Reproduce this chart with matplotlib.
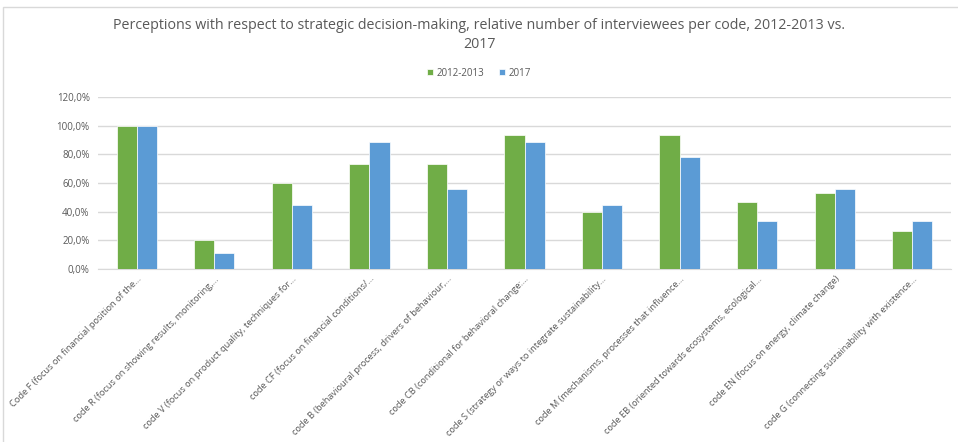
import numpy as np
import matplotlib.pyplot as plt
from matplotlib.patches import Rectangle
from matplotlib.ticker import FuncFormatter

categories = [
    "Code F (focus on financial position of the...",
    "code R (focus on showing results, monitoring,...",
    "code V (focus on product quality, techniques for...",
    "code CF (focus on financial conditions/...",
    "code B (behavioural process, drivers of behaviour,...",
    "code CB (conditional for behavioral change:...",
    "code S (strategy or ways to integrate sustainability...",
    "code M (mechanisms, processes that influence...",
    "code EB (oriented towards ecosystems, ecological...",
    "code EN (focus on energy, climate change)",
    "code G (connecting sustainability with existence...",
]
vals_2012 = [100.0, 20.0, 60.0, 73.3, 73.3, 93.3, 40.0, 93.3, 46.7, 53.3, 26.7]
vals_2017 = [100.0, 11.1, 44.4, 88.9, 55.6, 88.9, 44.4, 77.8, 33.3, 55.6, 33.3]
series = ["2012-2013", "2017"]

green = "#70ad47"
blue = "#5b9bd5"
grey = "#595959"

plt.rcParams['font.family'] = ['Open Sans', 'DejaVu Sans']

fig = plt.figure(figsize=(9.58, 4.42), dpi=100)
ax = fig.add_axes([98 / 958, 1 - 269 / 442, 853 / 958, 172 / 442])

x = np.arange(len(categories))
w = 0.26
ax.bar(x - w / 2, vals_2012, w, color=green, edgecolor="white", linewidth=0.5, label=series[0], zorder=3)
ax.bar(x + w / 2, vals_2017, w, color=blue, edgecolor="white", linewidth=0.5, label=series[1], zorder=3)

ax.set_xlim(-0.5, len(categories) - 0.5)
ax.set_ylim(0, 120)
ax.set_yticks(np.arange(0, 121, 20))
ax.yaxis.set_major_formatter(FuncFormatter(lambda v, p: f"{v:.1f}%".replace(".", ",")))
ax.grid(axis="y", color="#d9d9d9", linewidth=1, zorder=0)
for s in ["top", "right", "left"]:
    ax.spines[s].set_visible(False)
ax.spines["bottom"].set_color("#d9d9d9")
ax.tick_params(axis="y", length=0, labelsize=7, labelcolor=grey, pad=6)
ax.tick_params(axis="x", length=0, labelsize=6.7, labelcolor=grey, pad=4)
ax.set_xticks(x)
ax.set_xticklabels(categories, rotation=45, ha="right", rotation_mode="anchor")

fig.text(0.5, 1 - 35 / 442, "Perceptions with respect to strategic decision-making, relative number of interviewees per code, 2012-2013 vs.\n2017",
         ha="center", va="center", fontsize=10.3, color=grey, linespacing=1.45)

ax.legend(loc="center", bbox_to_anchor=(0.5, 1 - 73 / 442), bbox_transform=fig.transFigure,
          ncol=2, frameon=False, fontsize=7, labelcolor=grey, handlelength=0.6, handleheight=0.6,
          handletextpad=0.4, columnspacing=1.5)

fig.patches.append(Rectangle((3 / 958, -0.1), 1.1, 1 - 7 / 442 + 0.1, transform=fig.transFigure,
                             fill=False, edgecolor="#d9d9d9", linewidth=1))

fig.savefig("out.png", dpi=100)
